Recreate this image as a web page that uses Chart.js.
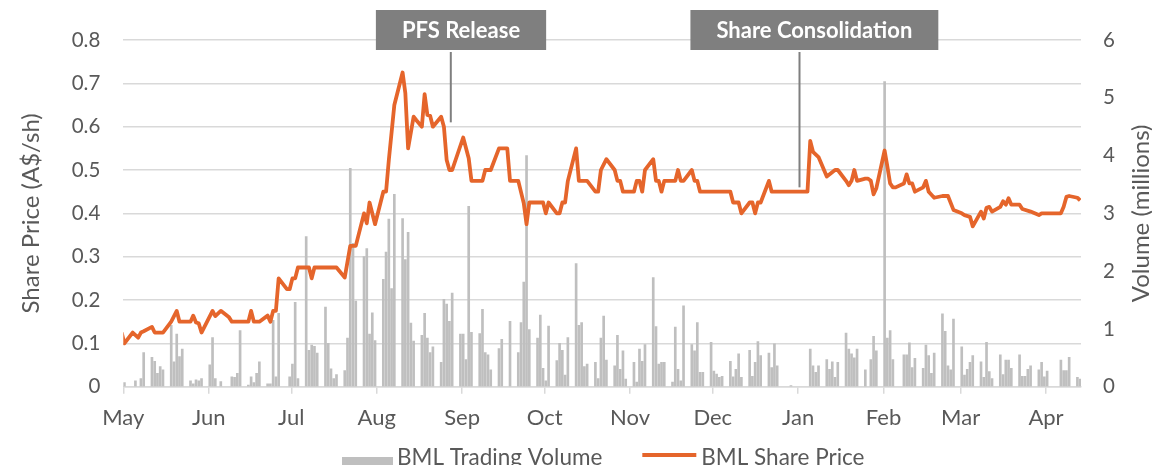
<!DOCTYPE html>
<html>
<head>
<meta charset="utf-8">
<title>BML Share Price and Trading Volume</title>
<script src="https://cdn.jsdelivr.net/npm/chart.js@4.4.1/dist/chart.umd.min.js"></script>
<style>
    html, body { margin: 0; padding: 0; background: #fff; overflow: hidden; }
    #wrap { width: 1152px; height: 465px; }
</style>
</head>
<body>
<div id="wrap"><canvas id="priceChart" width="1152" height="465"></canvas></div>
<script>
// 축 / 눈금
const monthLabels = ['May', 'Jun', 'Jul', 'Aug', 'Sep', 'Oct', 'Nov', 'Dec', 'Jan', 'Feb', 'Mar', 'Apr'];
const monthStartDays = [0, 31, 61, 92, 123, 153, 184, 214, 245, 276, 304, 335]; // days since 1 May
const lastDay = 347.7;

// 주가 (A$/sh) - 꺾이는 지점의 거래일
const priceDays = [
    -1, 0, 3, 5, 6, 7, 10, 11, 14, 17, 19, 20, 24, 25, 26, 27, 28,
    32, 33, 35, 38, 39, 45, 46, 47, 49, 52, 53, 54, 55, 56, 59, 60,
    61, 62, 63, 67, 68, 69, 77, 80, 82, 84, 87, 88, 89, 91,
    94, 95, 96, 98, 101, 102, 103, 105, 106, 108, 109, 110, 111, 112, 115, 116, 117, 118, 119,
    123, 125, 126, 130, 131, 133, 136, 139, 140, 143, 145, 146, 147, 152,
    153, 154, 157, 158, 159, 160, 161, 164, 165, 168, 171, 172, 173, 175, 178, 179, 180, 181,
    185, 186, 187, 188, 189, 192, 193, 194, 195, 196, 200, 201, 202, 203, 206, 207, 208, 209,
    220, 221, 223, 224, 227, 228, 229, 230, 231, 234, 235,
    248, 249, 250, 252, 255, 258, 259, 262, 263, 264, 265, 266, 269, 270, 271, 272, 273,
    276, 277, 278, 279, 280, 283, 284, 285, 286, 287, 290, 291, 292, 294, 297, 299, 301,
    304, 305, 307, 308, 311, 312, 313, 314, 315, 318, 319, 320, 321, 322, 325, 326, 329, 332, 333,
    340, 341, 342, 343, 346, 347
];
const priceValues = [
    0.125, 0.10, 0.125, 0.113, 0.125, 0.128, 0.138, 0.125, 0.125, 0.15, 0.175, 0.15, 0.15, 0.164, 0.148, 0.146, 0.125,
    0.175, 0.163, 0.175, 0.16, 0.15, 0.15, 0.175, 0.15, 0.15, 0.164, 0.15, 0.175, 0.175, 0.25, 0.225, 0.225,
    0.25, 0.25, 0.275, 0.275, 0.25, 0.275, 0.275, 0.252, 0.325, 0.325, 0.40, 0.377, 0.425, 0.375,
    0.45, 0.45, 0.523, 0.65, 0.725, 0.677, 0.55, 0.623, 0.615, 0.60, 0.675, 0.627, 0.625, 0.60, 0.623, 0.60, 0.523, 0.50, 0.50,
    0.575, 0.527, 0.475, 0.475, 0.50, 0.50, 0.55, 0.55, 0.475, 0.475, 0.423, 0.375, 0.425, 0.425,
    0.40, 0.425, 0.40, 0.40, 0.425, 0.425, 0.475, 0.55, 0.475, 0.475, 0.45, 0.45, 0.50, 0.525, 0.50, 0.475, 0.475, 0.45,
    0.45, 0.475, 0.475, 0.45, 0.50, 0.525, 0.475, 0.475, 0.45, 0.475, 0.475, 0.50, 0.475, 0.475, 0.50, 0.475, 0.475, 0.45,
    0.45, 0.425, 0.425, 0.40, 0.425, 0.425, 0.40, 0.425, 0.425, 0.475, 0.45,
    0.45, 0.567, 0.542, 0.53, 0.485, 0.50, 0.50, 0.475, 0.465, 0.475, 0.50, 0.475, 0.48, 0.48, 0.475, 0.444, 0.458,
    0.545, 0.508, 0.469, 0.46, 0.46, 0.469, 0.49, 0.469, 0.469, 0.45, 0.46, 0.475, 0.45, 0.436, 0.44, 0.44, 0.408,
    0.40, 0.396, 0.392, 0.37, 0.404, 0.388, 0.413, 0.415, 0.404, 0.415, 0.428, 0.42, 0.435, 0.42, 0.42, 0.41, 0.404, 0.396, 0.40,
    0.40, 0.415, 0.438, 0.44, 0.436, 0.43
];

// 거래량 (백만주) - 거래일별
const volumeDays = [
    0, 4, 6, 7, 10, 11, 12, 13, 14, 17, 18, 19, 20, 21, 24, 25, 26, 27, 28,
    31, 32, 33, 35, 39, 40, 41, 42, 45, 46, 47, 48, 49, 52, 53, 54, 55, 56, 60,
    61, 62, 63, 66, 67, 68, 69, 70, 73, 74, 75, 76, 77, 80, 81, 82, 83, 84, 87, 88, 89, 90, 91,
    94, 95, 96, 97, 98, 101, 102, 103, 104, 105, 108, 109, 110, 111, 112, 115, 116, 117, 118, 119, 122,
    123, 124, 125, 126, 129, 130, 131, 132, 133, 136, 137, 140, 143, 144, 145, 146, 147, 150, 151, 152,
    153, 154, 157, 158, 159, 160, 161, 164, 165, 166, 167, 168, 171, 172, 173, 174, 175, 178, 179, 180, 181, 182,
    185, 186, 187, 188, 189, 192, 193, 194, 195, 196, 199, 200, 201, 202, 203, 206, 207, 208, 209, 210, 213,
    214, 215, 216, 217, 220, 221, 222, 223, 224, 227, 228, 229, 230, 231, 234, 235, 236, 237, 242,
    249, 250, 251, 252, 255, 256, 257, 258, 259, 262, 263, 264, 265, 266, 269, 271, 272, 273,
    276, 277, 278, 279, 283, 284, 285, 286, 287, 290, 291, 292, 293, 294, 297, 298, 299, 300, 301,
    304, 305, 306, 307, 308, 311, 312, 313, 314, 315, 318, 319, 320, 321, 322, 325, 326, 327, 328, 329, 332, 333, 334,
    335, 340, 341, 342, 343, 346, 347
];
const volumeMillions = [
    0.07, 0.10, 0.14, 0.59, 0.51, 0.44, 0.23, 0.35, 0.29, 1.06, 0.43, 0.91, 0.52, 0.65, 0.10, 0.05, 0.12, 0.10, 0.14,
    0.38, 0.85, 0.14, 0.09, 0.17, 0.16, 0.23, 0.97, 0.03, 0.17, 0.07, 0.23, 0.43, 0.05, 0.05, 1.15, 0.17, 1.27, 0.17,
    0.39, 1.46, 0.14, 2.60, 0.63, 0.72, 0.70, 0.58, 1.38, 0.75, 0.31, 0.14, 0.21, 0.28, 0.84, 3.78, 2.48, 1.48, 2.25, 2.39, 0.91, 1.28, 0.80,
    1.86, 2.33, 2.90, 1.70, 3.33, 2.91, 2.20, 2.67, 1.10, 0.79, 0.89, 1.27, 0.84, 0.59, 0.69, 0.42, 1.51, 1.43, 1.13, 1.62, 0.91,
    0.91, 0.47, 3.12, 0.94, 0.92, 1.34, 0.59, 0.55, 0.29, 0.66, 0.82, 1.13, 0.59, 1.11, 1.81, 4.00, 0.99, 0.84, 1.24, 0.32,
    0.10, 1.05, 0.45, 0.75, 0.63, 0.20, 0.85, 2.13, 1.06, 1.11, 0.35, 0.39, 0.42, 0.14, 0.84, 1.22, 0.46, 0.36, 0.89, 0.30, 0.62, 0.13,
    0.42, 0.08, 0.65, 0.44, 0.73, 1.89, 1.04, 0.39, 0.42, 0.42, 0.08, 1.03, 0.30, 0.10, 1.40, 0.73, 0.62, 1.11, 0.25, 0.25, 0.77,
    0.27, 0.22, 0.16, 0.18, 0.44, 0.17, 0.30, 0.57, 0.16, 0.63, 0.18, 0.42, 0.78, 0.54, 0.58, 0.33, 0.74, 0.36, 0.02,
    0.65, 0.36, 0.25, 0.36, 0.47, 0.30, 0.43, 0.16, 0.42, 0.93, 0.65, 0.57, 0.50, 0.65, 0.29, 0.47, 0.87, 0.62,
    5.28, 0.84, 0.97, 0.47, 0.55, 0.55, 0.76, 0.33, 0.49, 0.32, 0.72, 0.54, 0.23, 0.58, 1.26, 0.96, 0.36, 0.29, 1.17,
    0.69, 0.20, 0.30, 0.42, 0.54, 0.43, 0.16, 0.77, 0.26, 0.14, 0.55, 0.21, 0.46, 0.46, 0.32, 0.55, 0.18, 0.18, 0.30, 0.36, 0.29, 0.42, 0.17,
    0.27, 0.46, 0.28, 0.28, 0.51, 0.16, 0.13
];

// 주석 (발표 시점)
const annotations = [
    { text: 'PFS Release', day: 118.9, price: 0.61 },
    { text: 'Share Consolidation', day: 245.5, price: 0.46 }
];
const volumeAxisTitle = 'Volume (millions)';

const DAY_CENTRE = 0.4;          // 막대/선은 그날의 가운데쯤에 찍힘
const ORANGE = '#e5652b';
const BAR_GREY = '#bfbfbf';
const TEXT = '#595959';
const GRID = '#d9d9d9';
const FONT = 'Lato, "Open Sans", sans-serif';

Chart.defaults.font.family = FONT;
Chart.defaults.color = TEXT;

// 위쪽 회색 박스 + 연결선
const annotationPlugin = {
    id: 'boxNotes',
    afterDraw(chart) {
        const { ctx, scales: { x, y } } = chart;
        ctx.save();
        ctx.font = 'bold 22px ' + FONT;
        annotations.forEach(a => {
            const cx = x.getPixelForValue(a.day);
            const w = ctx.measureText(a.text).width + 52;
            const left = cx - w * 0.44;
            ctx.fillStyle = '#7f7f7f';
            ctx.fillRect(left, 10, w, 40);

            ctx.strokeStyle = '#7f7f7f';
            ctx.lineWidth = 2;
            ctx.beginPath();
            ctx.moveTo(cx, 52);
            ctx.lineTo(cx, y.getPixelForValue(a.price));
            ctx.stroke();

            ctx.fillStyle = '#fff';
            ctx.textAlign = 'center';
            ctx.textBaseline = 'middle';
            ctx.fillText(a.text, left + w / 2, 31);
        });
        ctx.restore();
    }
};

// 오른쪽 축 제목: 아래에서 위로 읽히게 (Chart.js 기본은 반대 방향)
const rightTitlePlugin = {
    id: 'rightTitle',
    afterDraw(chart) {
        const { ctx, chartArea } = chart;
        ctx.save();
        ctx.translate(chart.width - 10.5, (chartArea.top + chartArea.bottom) / 2);
        ctx.rotate(-Math.PI / 2);
        ctx.font = '24px ' + FONT;
        ctx.fillStyle = TEXT;
        ctx.textAlign = 'center';
        ctx.textBaseline = 'middle';
        ctx.fillText(volumeAxisTitle, 0, 0);
        ctx.restore();
    }
};

// 하단 범례 (그림 아래쪽에서 잘림)
const legendPlugin = {
    id: 'bottomLegend',
    afterDraw(chart) {
        const { ctx } = chart;
        const [volSet, priceSet] = chart.data.datasets;
        ctx.save();
        ctx.font = '22.5px ' + FONT;
        ctx.textBaseline = 'alphabetic';
        ctx.textAlign = 'left';

        let xPos = 342;
        ctx.fillStyle = BAR_GREY;
        ctx.fillRect(xPos, 457, 51, 14);
        xPos += 55;
        ctx.fillStyle = TEXT;
        ctx.fillText(volSet.label, xPos, 465);
        xPos += ctx.measureText(volSet.label).width + 40;

        ctx.strokeStyle = ORANGE;
        ctx.lineWidth = 4;
        ctx.beginPath();
        ctx.moveTo(xPos, 455);
        ctx.lineTo(xPos + 54, 455);
        ctx.stroke();
        xPos += 59;
        ctx.fillText(priceSet.label, xPos, 465);
        ctx.restore();
    }
};

const ctx = document.getElementById('priceChart').getContext('2d');
new Chart(ctx, {
    data: {
        datasets: [
            {
                type: 'bar',
                label: 'BML Trading Volume',
                data: volumeDays.map((d, i) => ({ x: d + DAY_CENTRE, y: volumeMillions[i] })),
                backgroundColor: BAR_GREY,
                barThickness: 2,
                yAxisID: 'y1',
                order: 1
            },
            {
                type: 'line',
                label: 'BML Share Price',
                data: priceDays.map((d, i) => ({ x: d + DAY_CENTRE, y: priceValues[i] })),
                borderColor: ORANGE,
                borderWidth: 3.8,
                borderJoinStyle: 'round',
                pointRadius: 0,
                tension: 0,
                yAxisID: 'y',
                order: 0
            }
        ]
    },
    plugins: [annotationPlugin, rightTitlePlugin, legendPlugin],
    options: {
        responsive: false,
        animation: false,
        layout: { padding: { top: 40, left: 0, right: 0, bottom: 0 } },
        plugins: { legend: { display: false }, tooltip: { enabled: false } },
        scales: {
            x: {
                type: 'linear',
                offset: false,
                min: 0,
                max: lastDay,
                afterBuildTicks: s => { s.ticks = monthStartDays.map(v => ({ value: v })); },
                afterFit: s => { s.height = 78.3; },
                grid: { offset: false, drawOnChartArea: false, drawTicks: true, tickLength: 7, color: GRID, lineWidth: 1.5 },
                border: { display: true, color: GRID, width: 1.5 },
                ticks: {
                    autoSkip: false,
                    maxRotation: 0,
                    padding: 11,
                    font: { size: 22 },
                    callback: (v, i) => monthLabels[i]
                }
            },
            y: {
                position: 'left',
                min: 0,
                max: 0.8,
                afterFit: s => { s.width = 123.3; },
                grid: { color: GRID, lineWidth: 1.5, drawTicks: false },
                border: { display: false },
                ticks: {
                    stepSize: 0.1,
                    padding: 23,
                    font: { size: 20.5 },
                    callback: v => v === 0 ? '0' : v.toFixed(1)
                },
                title: {
                    display: true,
                    text: 'Share Price (A$/sh)',
                    font: { size: 24, lineHeight: 1 },
                    padding: { top: 19.5, bottom: 0 }
                }
            },
            y1: {
                position: 'right',
                min: 0,
                max: 6,
                afterFit: s => { s.width = 71; },
                grid: { drawOnChartArea: false, drawTicks: false },
                border: { display: false },
                ticks: { stepSize: 1, padding: 22, font: { size: 20.5 } }
            }
        }
    }
});
</script>
</body>
</html>
